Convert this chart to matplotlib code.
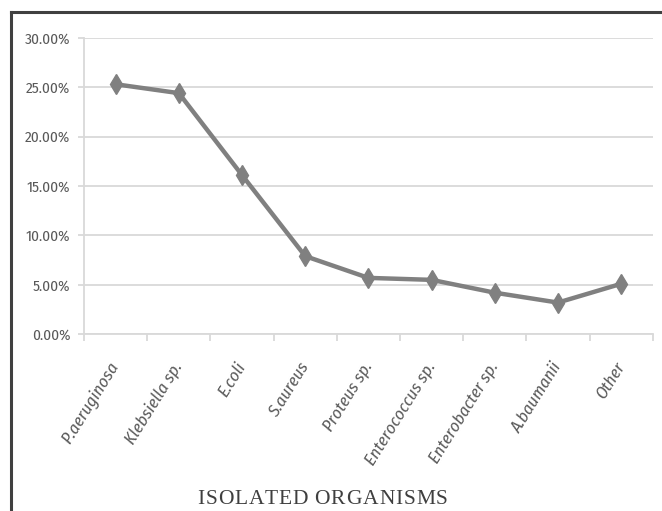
import matplotlib.pyplot as plt
from matplotlib.lines import Line2D
from matplotlib.ticker import FuncFormatter

organisms = ['P.aeruginosa', 'Klebsiella sp.', 'E.coli', 'S.aureus', 'Proteus sp.',
             'Enterococcus sp.', 'Enterobacter sp.', 'A.baumanii', 'Other']
percent = [25.3, 24.4, 16.1, 7.9, 5.7, 5.5, 4.2, 3.2, 5.1]
y_ticks = [0, 5, 10, 15, 20, 25, 30]

text_color = '#595959'
grid_color = '#d9d9d9'
label_font = ['Fira Sans Condensed', 'DejaVu Sans']

fig = plt.figure(figsize=(6.62, 5.11), dpi=100)
ax = fig.add_axes([0.127, 0.346, 0.859, 0.580])

x = list(range(len(organisms)))
ax.plot(x, percent, color='#808080', linewidth=3.2, marker='d', markersize=10,
        markerfacecolor='#808080', markeredgecolor='#808080', zorder=3)

ax.set_xlim(-0.5, len(organisms) - 0.5)
ax.set_ylim(0, 30)
ax.set_yticks(y_ticks)
ax.yaxis.set_major_formatter(FuncFormatter(lambda v, p: f'{v:.2f}%'))
ax.grid(axis='y', color=grid_color, linewidth=1.3)
ax.set_axisbelow(True)

for side in ['top', 'right']:
    ax.spines[side].set_visible(False)
ax.spines['left'].set_color(grid_color)
ax.spines['bottom'].set_color(grid_color)
ax.spines['left'].set_linewidth(1.3)
ax.spines['bottom'].set_linewidth(1.3)

ax.tick_params(axis='y', length=4, color=grid_color, width=1.3, pad=6,
               labelsize=11, labelcolor=text_color)
ax.set_xticks([i - 0.5 for i in range(len(organisms) + 1)], minor=False)
ax.set_xticklabels([])
ax.tick_params(axis='x', which='major', length=5, color=grid_color, width=1.3)
ax.set_xticks(x, minor=True)
ax.set_xticklabels(organisms, minor=True, rotation=58, ha='right', va='center',
                   rotation_mode='anchor', style='italic', fontsize=12.5,
                   color=text_color)
ax.tick_params(axis='x', which='minor', length=0, pad=21)
for lbl in ax.get_yticklabels() + ax.get_xticklabels(minor=True):
    lbl.set_family(label_font)

# axis title, letter-spaced one glyph at a time
title = 'ISOLATED ORGANISMS'
fig.canvas.draw()
renderer = fig.canvas.get_renderer()
glyphs = []
widths = []
for ch in title:
    t = fig.text(0, 0, ch if ch != ' ' else 'I', fontsize=15.5,
                 family='Liberation Serif', color='#3f3f3f', va='center', ha='left')
    widths.append(t.get_window_extent(renderer).width * (0.6 if ch == ' ' else 1))
    if ch == ' ':
        t.set_text('')
    glyphs.append(t)
span = 251.0
gap = (span - sum(widths)) / (len(title) - 1)
cursor = 197.0
for t, w in zip(glyphs, widths):
    t.set_position((cursor / 662, (511 - 499) / 511))
    cursor += w + gap

# dark frame along the left and top edges
fig.add_artist(Line2D([0.016, 0.016], [0, 0.977], color='#404040', linewidth=2.2))
fig.add_artist(Line2D([0.016, 1.0], [0.977, 0.977], color='#404040', linewidth=2.2))

fig.savefig('out.png', dpi=100)
